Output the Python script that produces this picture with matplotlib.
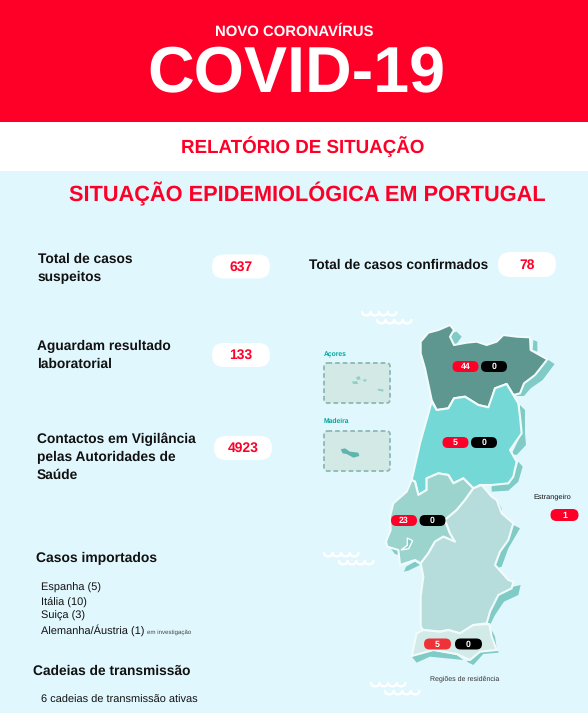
#!/usr/bin/env python3
# -*- coding: utf-8 -*-
"""Boletim COVID-19: situação epidemiológica em Portugal (figure drawn in pixel coords)."""
import numpy as np
import matplotlib
matplotlib.use('Agg')
import matplotlib.pyplot as plt
from matplotlib.patches import FancyBboxPatch, Polygon, Rectangle

plt.rcParams['font.family'] = ['Liberation Sans', 'DejaVu Sans']
plt.rcParams['text.hinting'] = 'no_hinting'

W, H = 588, 713
RED = '#fe0027'
BG = '#e1f7fe'
WHITE = '#ffffff'
INK = '#111111'

# Data
summary_labels = ['Total de casos\nsuspeitos', 'Aguardam resultado\nlaboratorial',
                  'Contactos em Vigilância\npelas Autoridades de\nSaúde']
summary_values = [637, 133, 4923]
confirmed_total = 78
region_cases = [44, 5, 23, 5]
region_deaths = [0, 0, 0, 0]
abroad_cases = 1
imported = ['Espanha (5)', 'Itália (10)', 'Suiça (3)', 'Alemanha/Áustria (1)']
chains = '6 cadeias de transmissão ativas'


def zoom1(pts):
    # outlines traced on the 3x crop starting at (300, 300)
    return [(300 + x / 3, 300 + y / 3) for x, y in pts]


NORTE = zoom1([(362, 125), (385, 98), (415, 90), (450, 75), (462, 90), (450, 110), (462, 135),
               (500, 128), (530, 125), (560, 135), (590, 125), (610, 105), (650, 110), (690, 112),
               (692, 150), (742, 178), (705, 225), (672, 250), (660, 280), (640, 285), (620, 252),
               (585, 265), (575, 300), (565, 322), (535, 315), (495, 290), (462, 295), (445, 325),
               (410, 330), (395, 300), (375, 205), (362, 160)])
CENTRO = zoom1([(395, 305), (410, 330), (445, 325), (462, 295), (495, 290), (535, 315), (565, 322),
                (585, 265), (620, 252), (640, 285), (655, 310), (660, 350), (665, 400), (630, 450),
                (650, 485), (640, 530), (625, 550), (575, 555), (540, 555), (520, 565), (490, 535),
                (460, 550), (445, 525), (415, 520), (380, 535), (380, 570), (355, 585), (345, 545),
                (335, 540), (360, 430)])
LISBOA = zoom1([(335, 540), (345, 545), (355, 585), (380, 570), (380, 535), (415, 520), (445, 525),
                (460, 550), (490, 535), (520, 565), (495, 600), (470, 630), (435, 660), (450, 700),
                (465, 725), (430, 710), (405, 725), (385, 760), (362, 790), (345, 780), (300, 795),
                (295, 750), (262, 740), (258, 725), (272, 690), (270, 650), (280, 610), (320, 575)])
ALENTEJO = zoom1([(495, 600), (520, 565), (545, 555), (575, 590), (590, 600), (605, 640), (640, 670),
                  (625, 720), (600, 755), (585, 795), (625, 840), (640, 845), (635, 865), (595, 885),
                  (570, 935), (560, 970), (520, 975), (480, 1000), (445, 990), (420, 995), (370, 990),
                  (362, 980), (362, 890), (370, 830), (362, 790), (385, 760), (405, 725), (430, 710),
                  (465, 725), (450, 700), (435, 660), (470, 630)])
ALGARVE = zoom1([(370, 990), (420, 995), (445, 990), (480, 1000), (520, 975), (568, 972), (575, 1010),
                 (590, 1050), (540, 1055), (510, 1080), (470, 1062), (400, 1050), (335, 1068), (350, 1000)])
SHADOWS = [
    [(700, 120), (712, 125), (712, 155), (698, 150)],
    [(742, 178), (764, 192), (728, 240), (692, 265), (672, 288), (648, 288), (672, 250), (705, 225)],
    [(660, 315), (675, 330), (675, 400), (678, 435), (650, 465), (635, 462), (665, 400), (660, 350)],
    [(655, 485), (668, 500), (655, 545), (625, 572), (575, 575), (575, 555), (625, 550), (640, 530)],
    [(450, 100), (470, 95), (485, 110), (465, 138), (452, 125)],
    [(590, 600), (605, 625), (605, 640)],
    [(640, 675), (660, 685), (625, 745), (605, 800), (590, 805), (585, 795), (600, 755), (625, 720)],
    [(640, 860), (662, 855), (655, 885), (612, 905), (585, 945), (570, 975), (560, 970), (570, 935),
     (595, 885), (635, 865)],
    [(575, 990), (585, 1010), (590, 1045), (575, 1040)],
    [(590, 1050), (597, 1058), (550, 1062), (520, 1095), (500, 1085), (510, 1080), (540, 1055)],
    [(335, 1070), (400, 1052), (470, 1065), (490, 1080), (440, 1075), (390, 1070), (350, 1088)],
    [(345, 785), (360, 795), (325, 812), (312, 815), (318, 800)],
    [(272, 745), (295, 750), (296, 765), (285, 762)],
]
MADEIRA = [(122, 448), (135, 445), (150, 455), (175, 458), (178, 468), (160, 473), (140, 462), (128, 460)]
ACORES = [[(155, 245), (170, 243), (175, 252), (160, 252)], [(168, 232), (178, 228), (182, 238), (172, 240)],
          [(190, 238), (200, 238), (198, 245), (190, 244)], [(232, 266), (250, 268), (250, 275), (235, 272)]]
BAY = [(322, 714), (338, 722), (326, 746), (303, 750), (322, 736)]
WAVES = [(362, 312), (377, 320), (324, 553), (339, 561), (371, 683), (385, 691)]


def pill(ax, x0, y0, w, h, color, ec='none', z=5):
    ax.add_patch(FancyBboxPatch((x0, y0), w, h, boxstyle=f'round,pad=0,rounding_size={h / 2}',
                                fc=color, ec=ec, lw=0, zorder=z))


def badge(ax, x0, y0, w, h, value, color):
    pill(ax, x0, y0, w, h, color)
    ax.text(x0 + w / 2, y0 + h / 2 + 0.3, str(value), color=WHITE, fontsize=6.3, fontweight='bold',
            ha='center', va='center', zorder=6)


def wave(ax, x0, y0, n=4):
    # row of white scallops
    t = np.linspace(0, np.pi, 12)
    for i in range(n):
        xs = x0 + i * 8.6 + 4.3 * (1 - np.cos(t))
        ys = y0 + 3.4 * np.sin(t)
        ax.plot(xs, ys, color=WHITE, lw=1.7, solid_capstyle='round', zorder=2)


fig = plt.figure(figsize=(W / 100, H / 100), dpi=100, facecolor=BG)
ax = fig.add_axes([0, 0, 1, 1])
ax.set_xlim(0, W)
ax.set_ylim(H, 0)
ax.axis('off')

# header bands
ax.add_patch(Rectangle((0, 0), W, 122, fc=RED, ec='none'))
ax.add_patch(Rectangle((0, 122), W, 49, fc=WHITE, ec='none'))
ax.text(294.5, 36, 'NOVO CORONAVÍRUS', color=WHITE, fontsize=10.7, fontweight='bold', ha='center', va='baseline')
ax.text(296, 92.5, 'COVID-19', color=WHITE, fontsize=46.5, fontweight='bold', ha='center', va='baseline')
ax.text(302.5, 153, 'RELATÓRIO DE SITUAÇÃO', color=RED, fontsize=13.5, fontweight='bold', ha='center', va='baseline')
ax.text(307.5, 201, 'SITUAÇÃO EPIDEMIOLÓGICA EM PORTUGAL', color=RED, fontsize=15.65, fontweight='bold',
        ha='center', va='baseline')

# left column
label_pos = [(37.5, 268.5), (37, 355.5), (37, 457)]
pill_pos = [(212, 254.5), (212, 343), (214, 436)]
for txt, val, (lx, ly), (px, py) in zip(summary_labels, summary_values, label_pos, pill_pos):
    ax.text(lx, ly, txt, color=INK, fontsize=9.95, fontweight='bold', ha='left', va='center', linespacing=1.45)
    pill(ax, px, py, 58, 24, WHITE)
    ax.text(px + 29, py + 12.3, str(val), color=RED, fontsize=10, fontweight='bold', ha='center', va='center', zorder=6)

ax.text(309, 265, 'Total de casos confirmados', color=INK, fontsize=9.85, fontweight='bold', ha='left', va='center')
pill(ax, 498, 252, 58, 25, WHITE)
ax.text(527, 265, str(confirmed_total), color=RED, fontsize=10, fontweight='bold', ha='center', va='center', zorder=6)

ax.text(35.5, 558, 'Casos importados', color=INK, fontsize=10, fontweight='bold', ha='left', va='center')
for i, name in enumerate(imported):
    ax.text(41, 588 + i * 14, name, color=INK, fontsize=7.9, ha='left', va='center')
ax.text(147, 632.5, 'em investigação', color='#444444', fontsize=4.4, ha='left', va='center')
ax.text(33, 671, 'Cadeias de transmissão', color=INK, fontsize=9.9, fontweight='bold', ha='left', va='center')
ax.text(41, 700, chains, color=INK, fontsize=7.9, ha='left', va='center')

# map
for k in range(0, len(WAVES)):
    wave(ax, *WAVES[k])

for poly in SHADOWS:
    ax.add_patch(Polygon(zoom1(poly), fc='#80cbc6', ec='none', zorder=2))
for pts, col in [(NORTE, '#5e9690'), (CENTRO, '#74d9d6'), (LISBOA, '#9bd3cd'),
                 (ALENTEJO, '#b6dddc'), (ALGARVE, '#d3ebe8')]:
    ax.add_patch(Polygon(pts, fc=col, ec='#f2fbfb', lw=1.5, joinstyle='round', zorder=3))
ax.add_patch(Polygon(zoom1(BAY), fc='#80cbc6', ec=WHITE, lw=1.0, zorder=4))

for name, y0, box_y in [('Açores', 355, 363), ('Madeira', 421, 431)]:
    ax.text(323.5, y0, name, color='#00a79d', fontsize=4.9, fontweight='bold', ha='left', va='center')
    ax.add_patch(FancyBboxPatch((324, box_y), 66, 40, boxstyle='round,pad=0,rounding_size=3.5',
                                fc='#d2e9e6', ec='#8fb8b2', lw=1.3, ls=(0, (2.6, 1.6)), zorder=2))
for poly in ACORES:
    ax.add_patch(Polygon(zoom1(poly), fc='#8fd0cc', ec='none', zorder=3))
ax.add_patch(Polygon(zoom1(MADEIRA), fc='#5fb5ae', ec='none', zorder=3))

badge(ax, 452.5, 361, 26, 11, region_cases[0], RED)
badge(ax, 481, 361, 26, 11, region_deaths[0], '#000000')
badge(ax, 442.5, 437, 26, 11, region_cases[1], RED)
badge(ax, 471, 437, 26, 11, region_deaths[1], '#000000')
badge(ax, 391, 515, 26, 11, region_cases[2], RED)
badge(ax, 419.5, 515, 26, 11, region_deaths[2], '#000000')
badge(ax, 424, 638.5, 27, 11, region_cases[3], '#ee3338')
badge(ax, 455, 638.5, 27, 11, region_deaths[3], '#000000')
badge(ax, 550.5, 509, 28, 12, abroad_cases, RED)

ax.text(533, 497, 'Estrangeiro', color=INK, fontsize=5.3, ha='left', va='center')
ax.text(430, 678.5, 'Regiões de residência', color='#333333', fontsize=5, ha='left', va='center')

fig.savefig('out.png', dpi=100, facecolor=BG)
